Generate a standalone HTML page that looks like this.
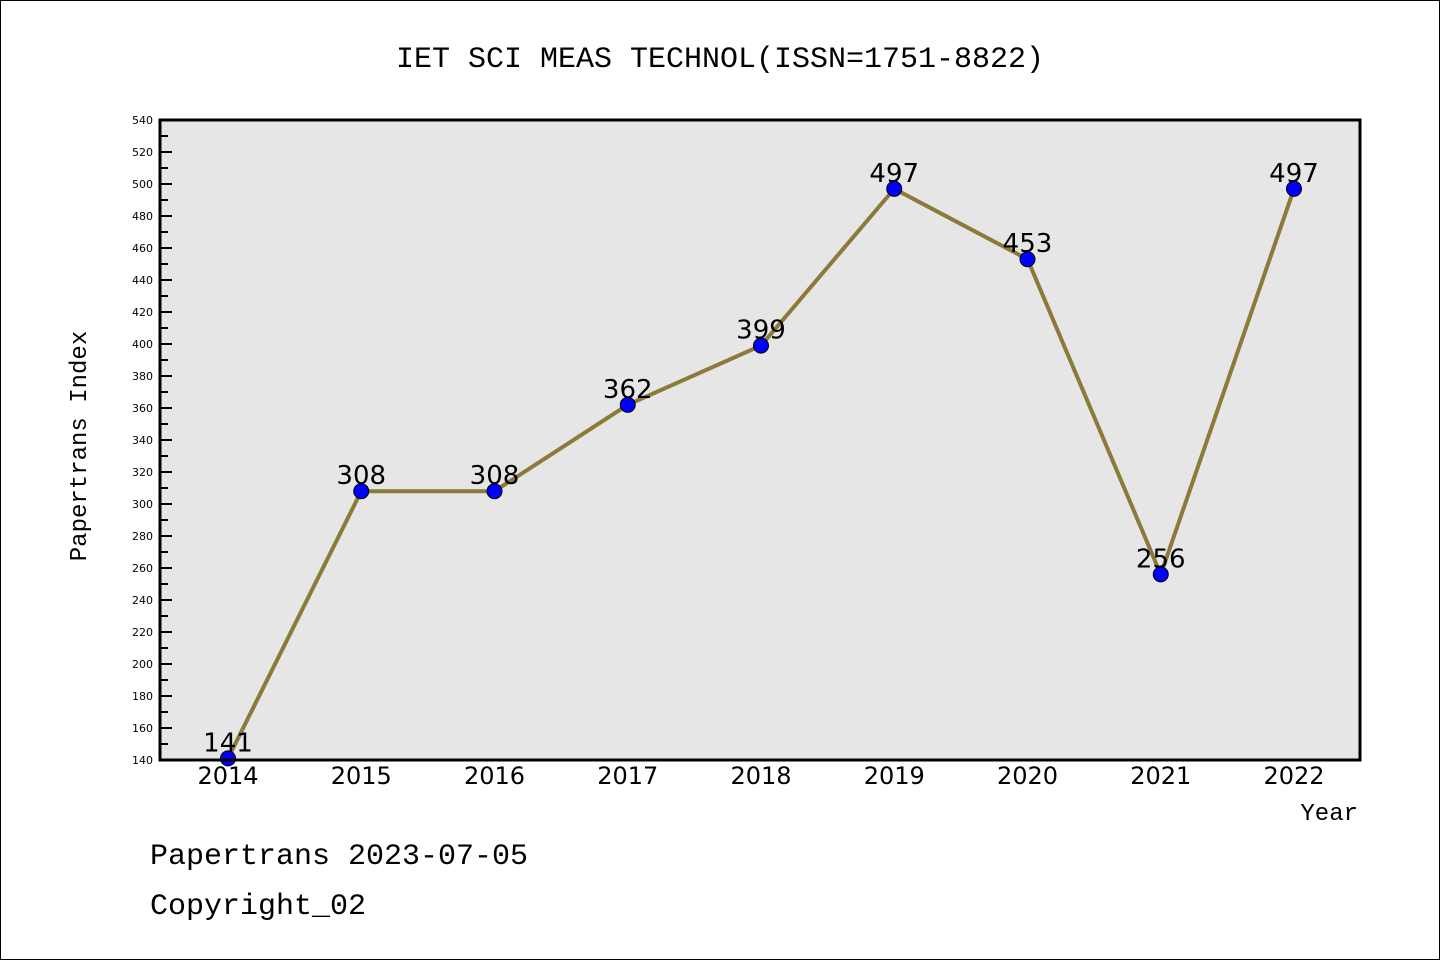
<!DOCTYPE html>
<html><head><meta charset="utf-8"><style>
body{margin:0;background:#fff;}
svg{display:block;font-family:"Liberation Mono","DejaVu Sans Mono",monospace;}
</style></head><body>
<svg id="chart" width="1440" height="960">
<rect x="0.5" y="0.5" width="1439" height="959" fill="#fff" stroke="#000"/>
<text x="720" y="67" text-anchor="middle" font-size="30">IET SCI MEAS TECHNOL(ISSN=1751-8822)</text>
<rect x="160" y="120" width="1200" height="640" fill="#e6e6e6"/>
<g id="yaxis"></g>
<g id="xaxis"></g>
<g id="series"></g>
<rect x="160" y="120" width="1200" height="640" fill="none" stroke="#000" stroke-width="3"/>
<text x="86" y="446" text-anchor="middle" font-size="24" transform="rotate(-90 86 446)">Papertrans Index</text>
<text x="1358" y="820" text-anchor="end" font-size="24">Year</text>
<text x="150" y="864" font-size="30">Papertrans 2023-07-05</text>
<text x="150" y="914" font-size="30">Copyright_02</text>
</svg>
<script>
const categories = ["2014","2015","2016","2017","2018","2019","2020","2021","2022"];
const values = [141,308,308,362,399,497,453,256,497];
const yTicks = [140,160,180,200,220,240,260,280,300,320,340,360,380,400,420,440,460,480,500,520,540];
const NS="http://www.w3.org/2000/svg";
const yMin=140,yMax=540,plotTop=120,plotBot=760,plotLeft=160;
function y(v){return plotBot-(v-yMin)/(yMax-yMin)*(plotBot-plotTop);}
function x(i){return 228+i*133.25;}
function mk(t,a,p){const e=document.createElementNS(NS,t);for(const k in a)e.setAttribute(k,a[k]);p.appendChild(e);return e;}
const ya=document.getElementById('yaxis');
for(let v=yMin;v<=yMax;v+=10){
  const l=mk('line',{x1:plotLeft,x2:plotLeft+(v%20===0?12:8),y1:y(v),y2:y(v),stroke:'#000','stroke-width':2},ya);
  
  
}
yTicks.forEach(v=>{
  const t=mk('text',{x:153,y:y(v)+4,'text-anchor':'end','font-size':11,'font-family':'DejaVu Sans, sans-serif'},ya);
  t.textContent=v;
  
  
});
const xa=document.getElementById('xaxis');
categories.forEach((c,i)=>{
  const t=mk('text',{x:x(i),y:784,'text-anchor':'middle','font-size':24,'font-family':'DejaVu Sans, sans-serif'},xa);
  t.textContent=c;
  
  
});
const s=document.getElementById('series');
const pl=mk('polyline',{points:values.map((v,i)=>x(i)+','+y(v)).join(' '),fill:'none',stroke:'#8c7a3a','stroke-width':4},s);


values.forEach((v,i)=>{
  const c=mk('circle',{cx:x(i),cy:y(v),r:7.5,fill:'#0000ff',stroke:'#000','stroke-width':1},s);
  
  
  const t=mk('text',{x:x(i),y:y(v)-7,'text-anchor':'middle','font-size':26,'font-family':'DejaVu Sans, sans-serif'},s);
  t.textContent=v;
  
  
});
</script>
</body></html>
